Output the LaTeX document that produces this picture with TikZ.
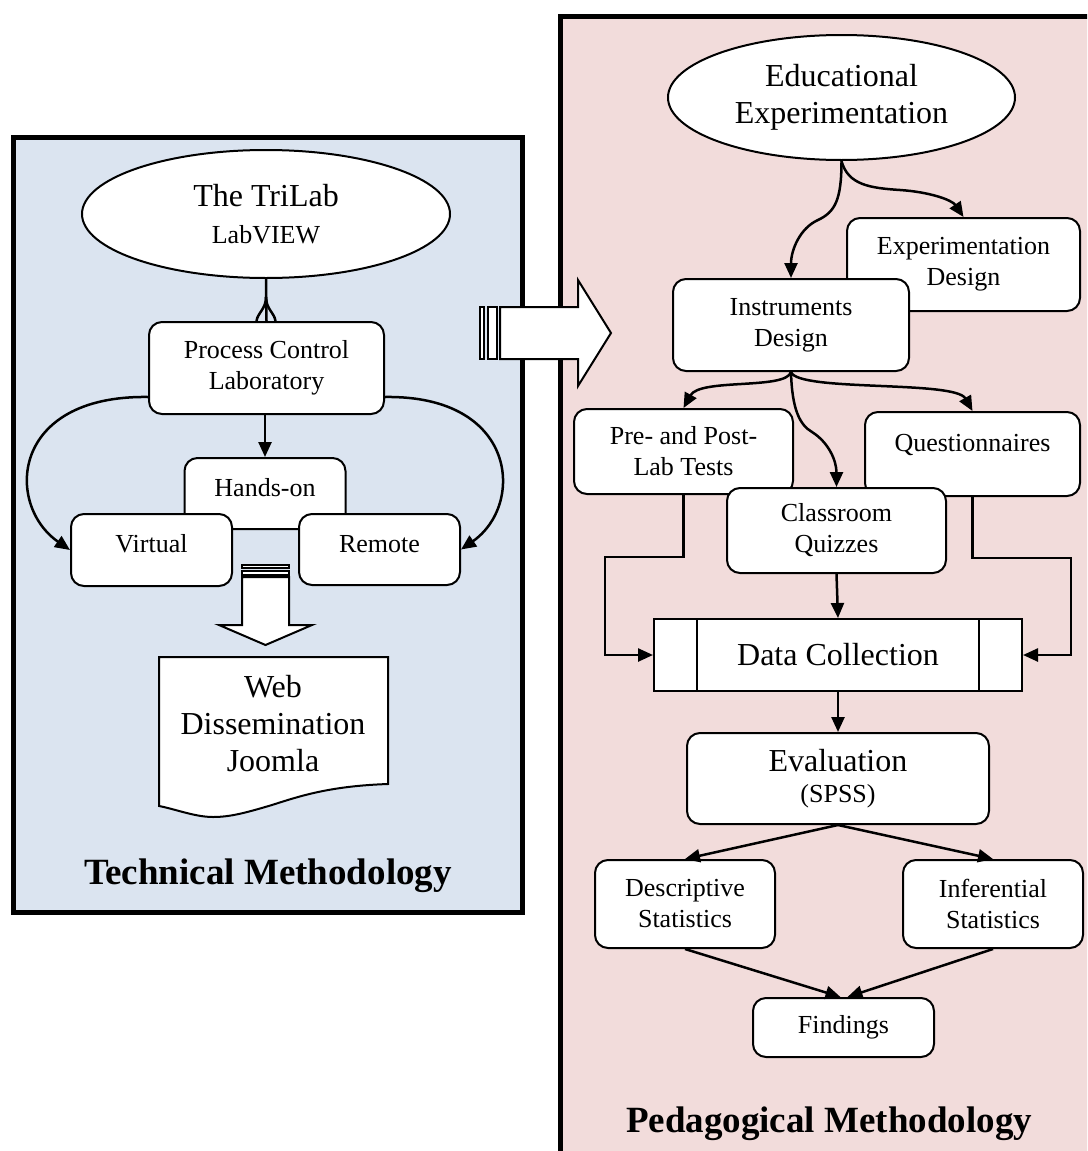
\documentclass[tikz,border=0pt]{standalone}
\usepackage{fontspec}
\setmainfont{Liberation Serif}
\usetikzlibrary{shapes.geometric,arrows.meta,calc}
\definecolor{techblue}{HTML}{DBE4F0}
\definecolor{pedpink}{HTML}{F2DCDB}
\newcommand\txtbox{\fontsize{26}{31}\selectfont}
\newcommand\txtbig{\fontsize{32}{37}\selectfont}
\newcommand\txttitle{\fontsize{37}{42}\selectfont\bfseries}

\begin{document}
\begin{tikzpicture}[x=1pt,y=-1pt,
  panel/.style={line width=5pt},
  stepbox/.style={draw,fill=white,line width=2pt,rounded corners=13pt,align=center,inner sep=0pt,font=\txtbox},
  oval/.style={draw,fill=white,ellipse,line width=2pt,align=center,inner sep=0pt,font=\txtbig},
  link/.style={line width=2.5pt,-{Triangle[length=15pt,width=13pt]}},
  plain/.style={line width=2.5pt},
  blockarrow/.style={draw,fill=white,line width=2pt,line join=miter},
  plaintext/.style={inner sep=0pt,align=center},
  lift/.style={text height=12pt,text depth=#1}
]
\useasboundingbox (0,0) rectangle (1087,1151);
\clip (0,0) rectangle (1087,1151);
\fill[white] (0,0) rectangle (1087,1151);

% panels
\draw[panel,fill=techblue] (13.5,137.5) rectangle (522.5,912);
\draw[panel,fill=pedpink] (560.5,16) rectangle (1100,1170);

% striped block arrow between the panels
\draw[blockarrow] (480,307) rectangle (484,359);
\draw[blockarrow] (488,307) rectangle (497,359);
\draw[blockarrow] (500,307) -- (578,307) -- (578,280) -- (611,333) -- (578,386) -- (578,359) -- (500,359) -- cycle;

% ---------------- technical methodology ----------------
\node[oval,minimum width=368,minimum height=128] (tri) at (266,214) {The TriLab\\{\txtbox LabVIEW}};
\node[stepbox,minimum width=235,minimum height=92] (pcl) at (266.5,368) {Process Control\\Laboratory};
\node[stepbox,minimum width=161,minimum height=71,lift=6.8pt] (hands) at (265,493.5) {Hands-on};
\node[stepbox,minimum width=161,minimum height=72,lift=6.8pt] (virt) at (151.5,550) {Virtual};
\node[stepbox,minimum width=161,minimum height=71,lift=6.8pt] (remo) at (379.5,549.5) {Remote};

% striped block arrow down to the web document
\draw[blockarrow] (242,565) rectangle (289,567.5);
\draw[blockarrow] (242,570.5) rectangle (289,575);
\draw[blockarrow] (242,577) -- (242,625) -- (219,625) -- (265.5,645) -- (312,625) -- (289,625) -- (289,577) -- cycle;

% web document shape
\draw[line width=2pt,fill=white] (159,657) -- (388,657) -- (388,784)
  .. controls (330,786) and (300,796) .. (272,805)
  .. controls (245,813) and (230,817) .. (213,817)
  .. controls (195,817) and (175,809) .. (159,806) -- cycle;
\node[plaintext,font=\txtbig] (web) at (273,724) {Web\\Dissemination\\Joomla};

\node[font=\txttitle,anchor=base] (tech) at (268,884) {Technical Methodology};

\draw[plain] (tri.south) -- (pcl.north);
\draw[plain] ($(tri.south)+(0,18)$) .. controls +(0,12) and +(1,-8) .. ($(pcl.north)+(-10,0)$);
\draw[plain] ($(tri.south)+(0,18)$) .. controls +(0,12) and +(-1,-8) .. ($(pcl.north)+(9,0)$);
\draw[link] (pcl.south -| hands.north) -- (hands.north);
\draw[link] ($(pcl.west)+(0,29)$) .. controls (10,395) and (5,505) .. (virt.west);
\draw[link] ($(pcl.east)+(0,29)$) .. controls (518,395) and (525,505) .. (remo.east);

% ---------------- pedagogical methodology ----------------
\node[oval,minimum width=347,minimum height=125] (edu) at (841.5,97.5) {Educational\\Experimentation};
\node[stepbox,minimum width=233,minimum height=93] (expd) at (963.5,264.5) {Experimentation\\Design};
\node[stepbox,minimum width=236,minimum height=92] (insd) at (791,325) {Instruments\\Design};
\node[stepbox,minimum width=219,minimum height=85] (pre) at (683.5,451.5) {Pre- and Post-\\Lab Tests};
\node[stepbox,minimum width=215,minimum height=84,lift=16.8pt] (ques) at (972.5,454) {Questionnaires};
\node[stepbox,minimum width=219,minimum height=85] (quiz) at (836.5,530.5) {Classroom\\Quizzes};
\node[draw,fill=white,line width=2pt,minimum width=368,minimum height=72,inner sep=0pt,font=\txtbig] (dc) at (838,655) {Data Collection};
\draw[line width=2pt] ($(dc.north west)+(44,0)$) -- ($(dc.south west)+(44,0)$);
\draw[line width=2pt] ($(dc.north east)+(-44,0)$) -- ($(dc.south east)+(-44,0)$);
\node[stepbox,minimum width=302,minimum height=91] (eval) at (838,778.5) {{\txtbig Evaluation}\\(SPSS)};
\node[stepbox,minimum width=180,minimum height=88] (desc) at (685,904) {Descriptive\\Statistics};
\node[stepbox,minimum width=180,minimum height=88] (infe) at (993,904) {Inferential\\Statistics};
\node[stepbox,minimum width=181,minimum height=59] (find) at (843.5,1027.5) {Findings};

\node[font=\txttitle,anchor=base] (peda) at (829,1132) {Pedagogical Methodology};

\draw[link] (edu.south) .. controls (841.5,200) and (835,212) .. (818,220)
  .. controls (800,228) and (791,250) .. (insd.north);
\draw[link] (edu.south) .. controls (848,185) and (870,188) .. (900,190)
  .. controls (930,192) and (952,200) .. (expd.north);
\draw[link] (insd.south) .. controls (786,390) and (700,378) .. (pre.north);
\draw[link] (insd.south) .. controls (798,392) and (955,380) .. (ques.north);
\draw[link] (insd.south) .. controls (792,410) and (800,425) .. (812,432)
  .. controls (828,442) and (836.5,460) .. (quiz.north);
\draw[link] (quiz.south) -- (dc.north);
\draw[link] (pre.south) -- ++(0,62) -| ($(dc.west)+(-48,0)$) -- (dc.west);
\draw[link] (ques.south) -- ++(0,61) -| ($(dc.east)+(48,0)$) -- (dc.east);
\draw[link] (dc.south) -- (eval.north);
\draw[link] (eval.south) -- (desc.north);
\draw[link] (eval.south) -- (infe.north);
\draw[link] (desc.south) -- ($(find.north)+(-3,0)$);
\draw[link] (infe.south) -- ($(find.north)+(4,0)$);
\end{tikzpicture}
\end{document}
